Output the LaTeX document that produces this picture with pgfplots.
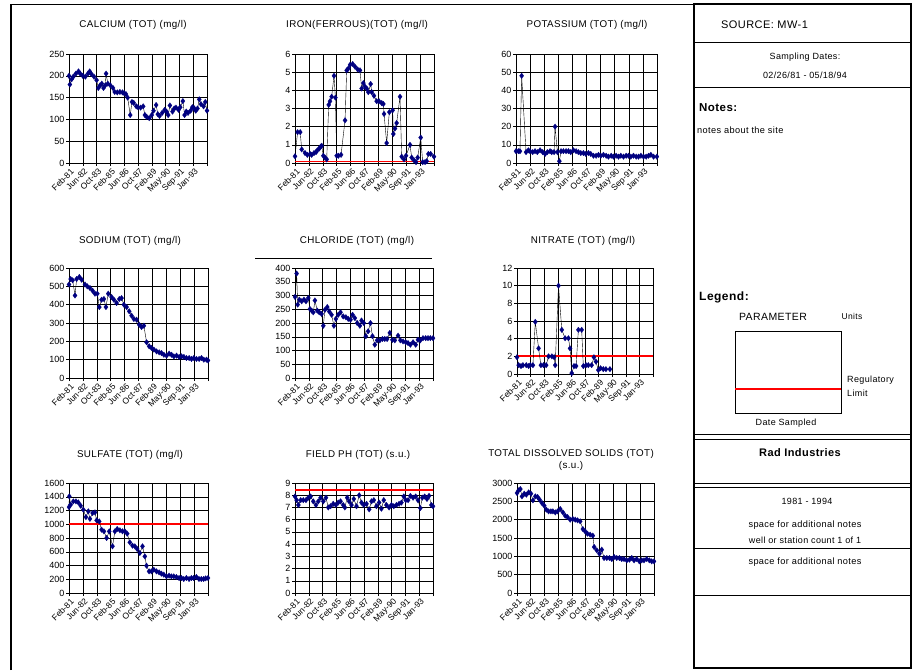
\documentclass[border=0pt]{standalone}
\usepackage{fontspec}
\setmainfont{Liberation Sans}[LetterSpace=4]
\newfontfamily\tickfont{Liberation Sans}
\usepackage{pgfplots}
\pgfplotsset{compat=1.18}
\definecolor{navyb}{RGB}{0,0,128}
\newcommand{\fs}[1]{\fontsize{#1}{#1}\selectfont}
\pgfplotsset{
  chart/.style={
    scale only axis, xmin=0, xmax=160, xtick={0,16,...,160},
    xticklabels={Feb-81,Jun-82,Oct-83,Feb-85,Jun-86,Oct-87,Feb-89,May-90,Sep-91,Jan-93,{}},
    x tick label style={rotate=45, anchor=north east, font=\tickfont\fs{8.5}, inner sep=0.5pt, yshift=-1.5pt},
    y tick label style={font=\tickfont\fs{9}, inner sep=1.5pt},
    grid=major, major grid style={black, line width=0.5pt},
    axis line style={black, line width=0.6pt},
    tick style={black, line width=0.5pt}, tick align=outside, major tick length=3pt,
    tick pos=left, clip=false, ymin=0,
    scaled y ticks=false,
    /pgf/number format/1000 sep={},
    /pgf/number format/assume math mode=true,
  },
  series/.style={black, line width=0.4pt, mark=diamond*, mark size=2.8pt,
    mark options={draw=navyb, fill=navyb, line width=0.2pt}},
  limit/.style={red, line width=1.8pt, mark=none},
}
\begin{document}
\begin{tikzpicture}
\useasboundingbox (0,0) rectangle (912pt,-670pt);
\fill[white] (0,0) rectangle (912pt,-670pt);

% ---------- Row 1 ----------
\begin{axis}[chart, at={(69pt,-163pt)}, anchor=south west, width=138pt, height=109pt,
  ymax=250, ytick={0,50,...,250}]
\addplot[series] coordinates {(0,200)(1,180)(3,192)(5,198)(8,205)(11,210)(13,205)(16,200)(19,198)(22,205)(24,210)(26,204)(29,198)(32,190)(34,172)(36,178)(38,182)(40,172)(42,178)(43,205)(45,182)(48,178)(51,172)(53,163)(56,162)(59,163)(62,162)(64,160)(66,158)(68,150)(71,110)(73,140)(75,138)(78,130)(80,128)(83,127)(86,130)(88,110)(90,106)(93,103)(96,110)(98,120)(101,133)(103,112)(105,108)(108,115)(111,122)(113,118)(115,110)(117,132)(120,118)(122,125)(124,127)(127,122)(129,128)(132,142)(134,110)(136,118)(138,115)(141,120)(143,128)(145,126)(147,120)(149,125)(151,146)(153,135)(156,130)(158,140)(160,120)};
\end{axis}

\begin{axis}[chart, at={(295pt,-163pt)}, anchor=south west, width=139pt, height=109pt,
  ymax=6, ytick={0,1,...,6}]
\addplot[limit] coordinates {(0,0.08)(160,0.08)};
\addplot[series] coordinates {(0,0.37)(3,1.7)(6,1.7)(7.7,0.75)(11.5,0.55)(14.2,0.45)(17.3,0.5)(19.2,0.45)(21.9,0.55)(24.2,0.6)(25.7,0.7)(28,0.8)(29.5,0.9)(30.7,0.95)(32.6,0.4)(34.5,0.3)(36.5,0.2)(38.8,3.2)(40.3,3.4)(42.2,3.65)(44.9,4.8)(46.5,3.6)(48,0.4)(49.9,0.4)(53,0.45)(57.6,2.35)(59.5,5.1)(61.4,5.2)(63.3,5.4)(66.4,5.45)(69.1,5.3)(72.1,5.15)(74.8,5.1)(76.7,4.1)(78.7,4.4)(80.6,4.2)(82.5,4.1)(84.4,3.9)(87.1,4.35)(88.3,3.9)(90.9,3.7)(94,3.4)(96.7,3.4)(99.8,3.3)(101.7,3.25)(102.5,2.7)(105.5,1.1)(108.6,2.8)(112.4,2.9)(113.2,1.6)(115.1,1.9)(117,2.2)(120.9,3.65)(122.8,0.35)(125.5,0.2)(127.8,0.4)(132.4,1.0)(134.3,0.3)(137,0.15)(139.3,0.05)(141.2,0.3)(144.7,1.4)(147,0.05)(149.7,0.05)(151.6,0.1)(153.5,0.5)(156.2,0.5)(160,0.35)};
\end{axis}

\begin{axis}[chart, at={(516pt,-163pt)}, anchor=south west, width=141pt, height=109pt,
  ymax=60, ytick={0,10,...,60}]
\addplot[series] coordinates {(0,6.5)(2.7,6.5)(4.5,6.5)(6.4,48)(11.4,6)(14,7)(15.9,6.5)(18.9,6)(21.6,6.5)(24.2,6)(27.3,7)(30.3,6)(33,5)(35.6,6)(38.6,6.5)(40.5,6)(43.2,6)(44.3,20)(47,6)(49.2,1)(51.1,6.5)(53.8,6.5)(56.8,6.5)(59.5,6.5)(62.1,6)(65.2,7)(68.2,6.5)(70.8,6)(73.5,5.5)(76.5,5.5)(79.2,5)(82.2,5.5)(84.8,5)(87.9,4)(90.9,4)(93.6,4.5)(96.2,4)(99.2,4.5)(102.3,4)(104.9,3.5)(108,4)(110.6,3.5)(113.6,4)(116.3,3.5)(118.9,4)(122,3.5)(125,4)(127.7,4)(130.3,3.5)(133.3,4)(136.4,3.5)(139,3.5)(141.7,4)(144.7,3.5)(147.7,3.5)(150.4,4)(153,4.5)(156.1,3.5)(159.8,3.5)};
\end{axis}

% ---------- Row 2 ----------
\begin{axis}[chart, at={(69pt,-378pt)}, anchor=south west, width=139pt, height=110pt,
  ymax=600, ytick={0,100,...,600}]
\addplot[series] coordinates {(0,510)(1.9,540)(4.2,533)(6.9,450)(8.8,540)(11.9,551)(14.6,536)(18.4,510)(21.1,500)(24.1,491)(27.2,476)(29.9,460)(32.6,460)(34.9,387)(37.5,427)(40.2,431)(42.5,387)(45.2,460)(49,442)(51.7,427)(54.8,409)(57.9,431)(60.5,436)(63.2,400)(66.3,387)(69.3,364)(72,340)(74.7,322)(77.8,318)(80.8,291)(83.5,278)(86.2,285)(89.3,195)(92.3,173)(95,164)(97.7,155)(100.8,145)(103.8,140)(106.5,136)(109.2,127)(112.3,122)(115.3,133)(118,127)(120.7,118)(123.8,122)(126.8,115)(129.5,118)(132.2,115)(135.2,109)(138.3,109)(141,104)(143.7,109)(146.7,104)(149.8,104)(152.5,109)(155.2,100)(158.2,100)(160,96)};
\end{axis}

\draw[black, line width=0.6pt] (255pt,-258pt) -- (432pt,-258pt);
\begin{axis}[chart, at={(295pt,-378pt)}, anchor=south west, width=138pt, height=110pt,
  ymax=400, ytick={0,50,...,400}]
\addplot[series] coordinates {(0,295)(1.9,380)(3.1,267)(5,285)(7.7,279)(10.4,285)(12.7,279)(15.4,291)(17.3,251)(19.3,245)(21.2,239)(23.1,282)(25.8,245)(28.1,239)(30.8,233)(32.8,190)(34.7,248)(37.4,258)(39.7,242)(42.4,230)(45.1,190)(47.4,215)(50.1,230)(52.8,239)(55.9,224)(59,221)(61.7,215)(64.4,212)(66.7,230)(69.4,218)(72.1,200)(75.2,190)(77.1,209)(79.8,200)(82.1,152)(84.8,170)(87.5,200)(89.8,152)(92.5,121)(95.2,137)(98.3,137)(101.4,142)(104.1,142)(106.8,142)(109.9,164)(112.9,139)(115.7,137)(119.5,154)(122.2,137)(125.3,133)(128.4,130)(131.1,127)(133.8,121)(136.9,130)(139.9,121)(142.6,139)(145.3,137)(148.4,145)(151.5,145)(154.2,145)(156.9,145)(160,145)};
\end{axis}

\begin{axis}[chart, at={(517pt,-374pt)}, anchor=south west, width=136pt, height=106pt,
  ymax=12, ytick={0,2,...,12}]
\addplot[limit] coordinates {(0,2)(160,2)};
\addplot[series] coordinates {(0,1.9)(2,1.0)(4.7,0.9)(7,1.0)(10.9,1.0)(13.7,0.9)(15.6,1.0)(18.7,1.0)(21.5,5.9)(25.4,2.9)(28.1,1.0)(31.2,1.0)(34.3,1.0)(37.1,2.0)(41,2.0)(43.7,1.9)(44.9,1.0)(48.8,10)(52.7,5.0)(56.6,4.05)(60.5,4.05)(62.4,2.9)(64.4,0.1)(67.1,0.9)(69.5,0.9)(72.2,5)(76.1,5)(78,0.9)(81.2,1.0)(83.9,1.0)(87.8,1.0)(90.5,1.9)(92.9,1.4)(95.6,0.45)(98.3,0.65)(101.5,0.55)(104.6,0.55)(109.3,0.55)};
\end{axis}

% ---------- Row 3 ----------
\begin{axis}[chart, at={(69pt,-593pt)}, anchor=south west, width=139pt, height=110pt,
  ymax=1600, ytick={0,200,...,1600}]
\addplot[limit] coordinates {(0,1000)(160,1000)};
\addplot[series] coordinates {(0,1250)(0.4,1406)(1.9,1285)(5,1333)(8,1333)(10.7,1318)(13.4,1270)(16.5,1212)(19.5,1105)(22.2,1188)(24.1,1079)(27.2,1164)(29.9,1173)(31.8,1057)(34.8,1042)(37.5,921)(40.2,897)(43.3,800)(46.3,897)(50.1,679)(52.8,897)(55.5,931)(58.6,912)(61.6,897)(64.3,897)(67,863)(70,737)(73.1,689)(75.8,679)(78.5,640)(81.5,582)(84.6,679)(87.3,533)(89.2,398)(92.2,315)(94.9,315)(97.6,339)(100.7,315)(103.7,300)(106.4,281)(109.1,267)(112.2,242)(115.2,252)(117.9,242)(120.6,242)(123.6,233)(126.7,218)(129.4,218)(132.1,204)(135.1,218)(138.2,204)(140.9,218)(143.5,218)(146.6,233)(149.6,204)(152.3,204)(155,204)(157.3,213)(160,218)};
\end{axis}

\begin{axis}[chart, at={(295pt,-593pt)}, anchor=south west, width=138pt, height=110pt,
  ymax=9, ytick={0,1,...,9}]
\addplot[limit] coordinates {(0,8.4)(160,8.4)};
\addplot[series] coordinates {(0,7.9)(1.9,7.6)(3.9,7.2)(6.6,7.6)(9.6,7.6)(12.7,7.6)(15.4,7.8)(18.1,7.9)(21.2,7.5)(24.3,7.2)(27,7.5)(29.7,7.8)(32.8,7.5)(35.9,7.8)(38.6,7.0)(41.2,7.1)(44.3,7.3)(47.4,7.2)(50.1,7.4)(52.8,7.5)(55.9,7.2)(57.8,7.0)(60.5,7.8)(62.8,7.5)(65.5,7.2)(68.2,7.7)(71.3,7.1)(74.4,8.0)(77.1,7.4)(79.8,7.2)(82.9,7.3)(86,6.85)(88.7,7.5)(91.4,7.6)(94.4,7.1)(97.5,7.4)(100.2,6.9)(102.9,7.6)(106,7.2)(109.1,7.0)(111.8,7.2)(114.5,7.1)(117.6,7.2)(120.7,7.3)(123.4,7.4)(126.1,7.9)(128.4,7.6)(131.1,7.6)(133.8,7.95)(136.9,7.8)(139.9,7.9)(142.6,7.6)(145.3,6.95)(147.6,7.8)(150.3,7.9)(153,7.7)(155.4,7.95)(158.1,7.2)(160,7.1)};
\end{axis}

\begin{axis}[chart, at={(517pt,-593pt)}, anchor=south west, width=137pt, height=110pt,
  ymax=3000, ytick={0,500,...,3000}]
\addplot[series] coordinates {(0,2727)(1.9,2800)(3.9,2836)(5.8,2636)(8.5,2709)(10.9,2682)(13.6,2745)(16.3,2709)(18.6,2527)(21.4,2636)(24.1,2618)(26.4,2545)(29.1,2455)(31.8,2382)(34.2,2273)(36.9,2227)(39.6,2227)(41.9,2227)(44.7,2200)(47.4,2227)(50.5,2291)(53.6,2200)(56.3,2109)(59,2073)(62.1,2000)(65.2,2018)(68,2000)(70.7,1982)(73.8,1955)(76.9,1745)(79.6,1682)(82.3,1618)(85.4,1591)(88.5,1564)(90.1,1255)(93.2,1164)(96.3,1073)(99,1182)(101.7,955)(104.9,955)(108,955)(110.7,927)(113.4,982)(116.5,955)(119.6,955)(122.3,927)(125,927)(128.2,891)(131.3,909)(134,955)(136.7,891)(139.8,927)(142.9,864)(145.6,891)(148.3,891)(151.5,927)(154.6,891)(157.3,864)(160,864)};
\end{axis}

% ---------- titles, frame and panel ----------
\begin{scope}[x=1pt, y=-1pt]
\draw[black, line width=1.2pt] (11,670) -- (11,4.5) -- (694,4.5);
\begin{scope}[every node/.style={inner sep=0pt, font=\fs{9.8}}]
\node at (133,25) {CALCIUM (TOT) (mg/l)};
\node at (357,25) {IRON(FERROUS)(TOT) (mg/l)};
\node at (587,25) {POTASSIUM (TOT) (mg/l)};
\node at (130,241) {SODIUM (TOT) (mg/l)};
\node at (357,241) {CHLORIDE (TOT) (mg/l)};
\node at (583,241) {NITRATE (TOT) (mg/l)};
\node at (130,455) {SULFATE (TOT) (mg/l)};
\node at (358,455) {FIELD PH (TOT) (s.u.)};
\node at (571,454) {TOTAL DISSOLVED SOLIDS (TOT)};
\node at (571,466) {(s.u.)};

% panel
\draw[black, line width=1.1pt] (694,4) rectangle (911,668);
\draw[black, line width=0.9pt] (694,42) -- (911,42);
\draw[black, line width=0.9pt] (694,87) -- (911,87);
\draw[black, line width=0.9pt] (694,434) -- (911,434);
\draw[black, line width=0.9pt] (694,439) -- (911,439);
\draw[black, line width=0.9pt] (694,483) -- (911,483);
\draw[black, line width=0.9pt] (694,487) -- (911,487);
\draw[black, line width=0.9pt] (694,548) -- (911,548);
\draw[black, line width=0.9pt] (694,595) -- (911,595);

\node[anchor=west, font=\fs{11}] at (721,25) {SOURCE: MW-1};
\node[font=\fs{9}] at (805,57) {Sampling Dates:};
\node[font=\fs{9}] at (805,75) {02/26/81 - 05/18/94};
\node[anchor=west, font=\bfseries\fs{11.5}] at (699,108) {Notes:};
\node[anchor=west, font=\fs{9.2}] at (697,130) {notes about the site};
\node[anchor=west, font=\bfseries\fs{12}] at (699,297) {Legend:};
\node[font=\fs{10.5}] at (773,317) {PARAMETER};
\node[font=\fs{8.5}] at (852,316) {Units};
\draw[black, line width=0.8pt] (735,331) rectangle (841,413);
\draw[red, line width=1.8pt] (735,389) -- (841,389);
\node[anchor=west, font=\fs{9}] at (847,380) {Regulatory};
\node[anchor=west, font=\fs{9}] at (847,393) {Limit};
\node[font=\fs{9}] at (786,423) {Date Sampled};
\node[font=\bfseries\fs{11}] at (800,453) {Rad Industries};
\node[font=\fs{9}] at (807,501) {1981 - 1994};
\node[font=\fs{9.2}] at (805,525) {space for additional notes};
\node[font=\fs{9}] at (805,540) {well or station count 1 of 1};
\node[font=\fs{9.2}] at (805,562) {space for additional notes};
\end{scope}
\end{scope}
\end{tikzpicture}
\end{document}
